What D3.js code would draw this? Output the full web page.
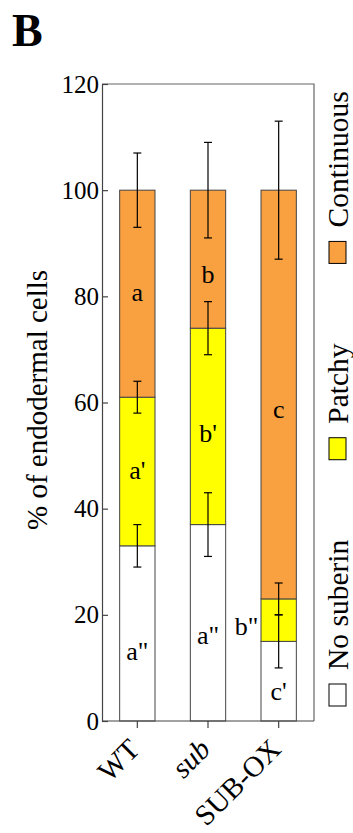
<!DOCTYPE html>
<html><head><meta charset="utf-8">
<script src="https://cdn.jsdelivr.net/npm/d3@7"></script>
<style>
html,body{margin:0;padding:0;background:#fff;}
svg{display:block;}
svg text{font-family:"Liberation Serif","Times New Roman",Tinos,"DejaVu Serif",serif !important;fill:#000;}
</style>
</head><body>
<div id="chart"></div>
<script>
const categories = ["WT", "sub", "SUB-OX"];
const seriesNames = ["No suberin", "Patchy", "Continuous"];
const noSuberin = [33, 37, 15];
const patchy = [28, 37, 8];
const continuous = [39, 26, 77];
const errNoSuberin = [4, 6, 5];
const errPatchy = [3, 5, 3];
const errContinuous = [7, 9, 13];
const yTicks = [0, 20, 40, 60, 80, 100, 120];
// significance letters: category, text, value (glyph centre), drawn beside the bar
const letterCat = ["WT","WT","WT","sub","sub","sub","SUB-OX","SUB-OX","SUB-OX"];
const letterText = ["a","a'","a\"","b","b'","a\"","c","b\"","c'"];
const letterVal = [80.6, 47, 13, 84, 54, 16, 58.6, 17.7, 5.5];
const letterOutside = [0,0,0,0,0,0,0,1,0];
const colors = ["#ffffff", "#ffff00", "#f9a040"];

const W = 353, H = 833;
const M = {left: 102, right: 39, top: 84, bottom: 112};
const FONT = "'Liberation Serif','Times New Roman',Tinos,'DejaVu Serif',serif";
const svg = d3.select("#chart").append("svg").attr("width", W).attr("height", H);

const x = d3.scaleBand().domain(categories).range([M.left, W - M.right]).paddingInner(0.5).paddingOuter(0.25);
const y = d3.scaleLinear().domain([0, 120]).range([H - M.bottom, M.top]);

const rows = categories.map((c, i) => ({cat: c, "No suberin": noSuberin[i], "Patchy": patchy[i], "Continuous": continuous[i]}));
const errs = [errNoSuberin, errPatchy, errContinuous];
const stacked = d3.stack().keys(seriesNames)(rows);

// frame (top/right)
svg.append("path")
  .attr("d", `M${M.left},${y(120)}H${W - M.right}V${y(0)}`)
  .attr("fill", "none").attr("stroke", "#666").attr("stroke-width", 1.2);

// bars
stacked.forEach((layer, li) => {
  svg.append("g").selectAll("rect").data(layer).join("rect")
    .attr("x", d => x(d.data.cat))
    .attr("y", d => y(d[1]))
    .attr("width", x.bandwidth())
    .attr("height", d => y(d[0]) - y(d[1]))
    .attr("fill", colors[li])
    .attr("stroke", "#444").attr("stroke-width", 1);
});

// error bars
stacked.forEach((layer, li) => {
  const g = svg.append("g").attr("stroke", "#000").attr("stroke-width", 1.2).attr("fill", "none");
  layer.forEach((d, i) => {
    const cx = x(d.data.cat) + x.bandwidth() / 2;
    const e = errs[li][i];
    const top = y(d[1] + e), bot = y(d[1] - e);
    g.append("line").attr("x1", cx).attr("x2", cx).attr("y1", top).attr("y2", bot);
    g.append("line").attr("x1", cx - 4).attr("x2", cx + 4).attr("y1", top).attr("y2", top);
    g.append("line").attr("x1", cx - 4).attr("x2", cx + 4).attr("y1", bot).attr("y2", bot);
  });
});

// letters
letterText.forEach((t, i) => {
  const cx = x(letterCat[i]) + x.bandwidth() / 2 - (letterOutside[i] ? 32 : 0);
  svg.append("text").attr("x", cx).attr("y", y(letterVal[i]))
    .attr("dy", "0.3em").attr("text-anchor", "middle")
    .attr("font-family", FONT).attr("font-size", 26).text(t);
});

// y axis
const yAxis = svg.append("g").attr("transform", `translate(${M.left},0)`)
  .call(d3.axisLeft(y).tickValues(yTicks).tickSizeInner(-6).tickSizeOuter(0).tickPadding(3));
yAxis.attr("font-family", FONT).attr("font-size", 25);
yAxis.selectAll("path,line").attr("stroke", "#444").attr("stroke-width", 1.2);
yAxis.selectAll("text").attr("font-size", 25).attr("font-family", FONT);

// x axis
const xAxis = svg.append("g").attr("transform", `translate(0,${y(0)})`)
  .call(d3.axisBottom(x).tickSizeInner(7).tickSizeOuter(0).tickPadding(4));
xAxis.attr("font-family", FONT).attr("font-size", 29);
xAxis.selectAll("path,line").attr("stroke", "#444").attr("stroke-width", 1.2);
xAxis.select(".domain").attr("d", `M${M.left},0H${W - M.right}`);
xAxis.selectAll("text")
  .attr("font-size", 29).attr("font-family", FONT)
  .attr("text-anchor", "end").attr("dy", 0).attr("y", 0)
  .attr("transform", "translate(4,30) rotate(-45)")
  .style("font-style", d => d === "sub" ? "italic" : "normal");

// y title
svg.append("text").attr("transform", "translate(47,530) rotate(-90)")
  .attr("text-anchor", "start").attr("font-family", FONT).attr("font-size", 29).text("% of endodermal cells");

// panel letter
svg.append("text").attr("x", 12).attr("y", 46).attr("font-family", FONT)
  .attr("font-size", 46).attr("font-weight", "bold").text("B");

// legend (vertical, rotated), laid out from bottom
let pos = 706;
seriesNames.forEach((name, i) => {
  svg.append("rect").attr("x", 329).attr("y", pos - 22).attr("width", 17).attr("height", 22)
    .attr("fill", colors[i]).attr("stroke", "#000").attr("stroke-width", 1);
  const t = svg.append("text").attr("transform", `translate(348,${pos - 36}) rotate(-90)`)
    .attr("font-family", FONT).attr("font-size", 29.5).text(name);
  const len = t.node().getComputedTextLength();
  pos = pos - 36 - len - 80;
});
</script>
</body></html>
